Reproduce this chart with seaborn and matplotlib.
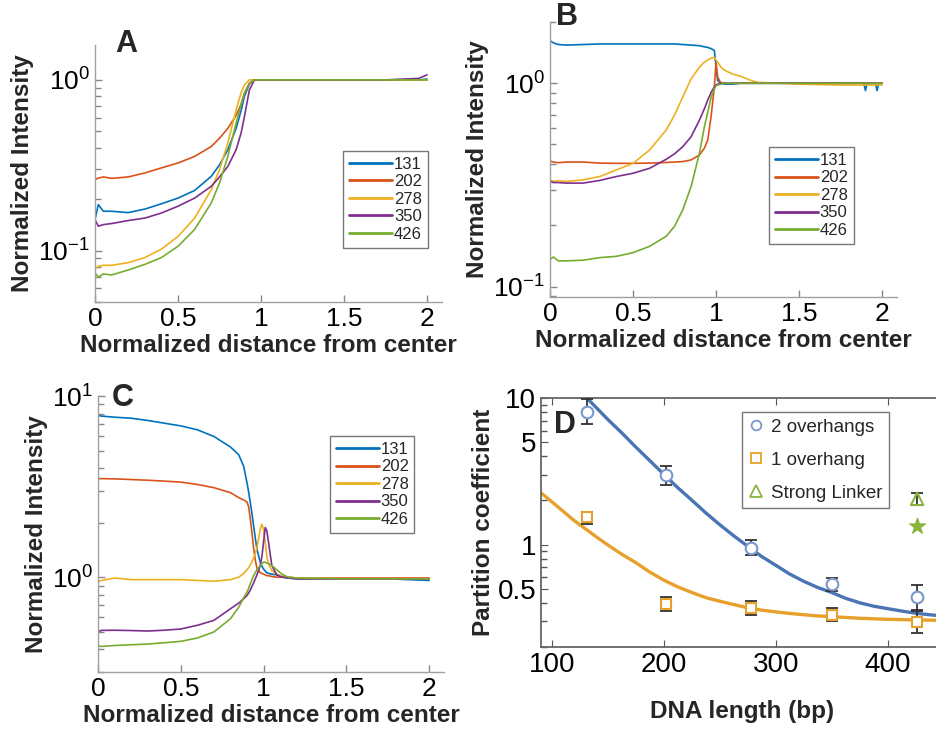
import pandas as pd
import matplotlib
matplotlib.use("Agg")
import matplotlib.pyplot as plt
import seaborn as sns
from matplotlib.lines import Line2D
from matplotlib.ticker import FixedLocator, NullFormatter, LogLocator

sns.set_style("ticks")
plt.rcParams["font.family"] = ["Liberation Sans", "DejaVu Sans"]
plt.rcParams["mathtext.fontset"] = "custom"
plt.rcParams["mathtext.rm"] = "Liberation Sans"
plt.rcParams["mathtext.it"] = "Liberation Sans:italic"
plt.rcParams["mathtext.bf"] = "Liberation Sans:bold"
plt.rcParams["xtick.direction"] = "in"
plt.rcParams["ytick.direction"] = "in"

# DNA lengths (legend) and MATLAB colours
lengths = ["131", "202", "278", "350", "426"]
line_colors = ["#0072BD", "#D95319", "#EDB120", "#7E2F8E", "#77AC30"]

# Panel A
a_x = [0, 0.02, 0.05, 0.1, 0.2, 0.3, 0.4, 0.5, 0.6, 0.7, 0.75, 0.8, 0.85, 0.88,
       0.9, 0.93, 0.96, 1.0, 1.25, 1.5, 1.75, 1.95, 2.0]
a_131 = [0.152, 0.186, 0.17, 0.17, 0.167, 0.175, 0.188, 0.203, 0.225, 0.272,
         0.318, 0.39, 0.52, 0.66, 0.8, 0.95, 1.0, 1.0, 1.0, 1.0, 1.0, 1.0, 1.01]
a_202 = [0.26, 0.266, 0.27, 0.265, 0.27, 0.285, 0.305, 0.326, 0.356, 0.407,
         0.455, 0.52, 0.62, 0.72, 0.836, 0.955, 1.0, 1.0, 1.0, 1.0, 1.0, 1.0, 1.0]
a_278 = [0.078, 0.081, 0.082, 0.082, 0.085, 0.091, 0.102, 0.121, 0.155, 0.227,
         0.298, 0.426, 0.668, 0.84, 0.935, 1.0, 1.0, 1.0, 1.0, 1.0, 1.0, 1.0, 1.0]
a_350 = [0.152, 0.139, 0.142, 0.144, 0.15, 0.155, 0.166, 0.182, 0.203, 0.238,
         0.27, 0.311, 0.39, 0.488, 0.61, 0.874, 1.0, 1.0, 1.0, 1.0, 1.0, 1.02, 1.07]
a_426 = [0.074, 0.07, 0.073, 0.072, 0.077, 0.083, 0.091, 0.106, 0.133, 0.19,
         0.249, 0.356, 0.558, 0.72, 0.836, 0.955, 1.0, 1.0, 1.0, 1.0, 1.0, 1.0, 1.0]

# Panel B
b_x = [0, 0.02, 0.05, 0.1, 0.2, 0.3, 0.4, 0.5, 0.6, 0.7, 0.75, 0.8, 0.85, 0.9,
       0.93, 0.95, 0.97, 0.99, 1.0, 1.01, 1.03, 1.05, 1.1, 1.15, 1.2, 1.25, 1.5,
       1.75, 1.89, 1.9, 1.91, 1.96, 1.97, 1.98, 2.0]
b_131 = [1.62, 1.58, 1.55, 1.54, 1.55, 1.56, 1.56, 1.56, 1.56, 1.56,
         1.56, 1.55, 1.54, 1.53, 1.51, 1.5, 1.48, 1.45, 1.2, 1.03,
         1.0, 0.99, 0.99, 1.0, 1.0, 1.0, 1.0, 1.0, 1.0, 0.92,
         1.0, 1.0, 0.92, 1.0, 1.0]
b_202 = [0.415, 0.41, 0.407, 0.41, 0.41, 0.405, 0.404, 0.404, 0.405, 0.408,
         0.41, 0.412, 0.42, 0.444, 0.48, 0.526, 0.684, 0.96, 1.27, 1.07,
         1.0, 1.0, 1.0, 1.0, 1.0, 1.0, 1.0, 1.0, 1.0, 1.0,
         1.0, 1.0, 1.0, 1.0, 1.0]
b_278 = [0.335, 0.33, 0.332, 0.329, 0.335, 0.348, 0.375, 0.404, 0.47, 0.589,
         0.697, 0.858, 1.05, 1.2, 1.27, 1.3, 1.33, 1.34, 1.3, 1.27,
         1.2, 1.16, 1.11, 1.08, 1.04, 1.01, 0.99, 0.98, 0.98, 0.98,
         0.98, 0.98, 0.98, 0.98, 0.98]
b_350 = [0.329, 0.325, 0.325, 0.323, 0.323, 0.333, 0.348, 0.361, 0.382, 0.423,
         0.45, 0.488, 0.546, 0.659, 0.75, 0.826, 0.9, 0.96, 0.98, 0.99,
         1.0, 1.0, 1.0, 1.0, 1.0, 1.0, 1.0, 1.0, 1.0, 1.0,
         1.0, 1.0, 1.0, 1.0, 1.0]
b_426 = [0.136, 0.14, 0.134, 0.134, 0.135, 0.139, 0.141, 0.147, 0.158, 0.177,
         0.198, 0.239, 0.311, 0.453, 0.611, 0.72, 0.85, 0.94, 0.97, 0.98,
         0.99, 1.0, 1.0, 1.0, 1.0, 1.0, 1.0, 1.0, 1.0, 1.0,
         1.0, 1.0, 1.0, 1.0, 1.0]

# Panel C
c_x = [0, 0.02, 0.1, 0.2, 0.3, 0.4, 0.5, 0.6, 0.7, 0.8, 0.85, 0.88, 0.9, 0.91,
       0.92, 0.93, 0.94, 0.95, 0.96, 0.98, 0.99, 1.0, 1.01, 1.02, 1.03, 1.05,
       1.08, 1.1, 1.12, 1.15, 1.2, 1.5, 1.75, 2.0]
c_131 = [7.8, 7.75, 7.64, 7.54, 7.33, 7.08, 6.84, 6.51, 5.98, 5.23,
         4.74, 4.09, 3.32, 2.95, 2.58, 2.25, 1.92, 1.65, 1.43,
         1.21, 1.15, 1.11, 1.08, 1.06, 1.05, 1.04, 1.03, 1.02, 1.0, 0.99, 0.98,
         0.98, 0.98, 0.96]
c_202 = [3.5, 3.5, 3.49, 3.46, 3.43, 3.39, 3.35, 3.25, 3.12, 2.93,
         2.75, 2.67, 2.6, 2.45, 2.1, 1.75, 1.45, 1.25, 1.12,
         1.06, 1.05, 1.04, 1.03, 1.02, 1.02, 1.01, 1.0, 1.0, 1.0, 1.0, 0.99,
         0.99, 0.99, 0.99]
c_278 = [0.946, 0.96, 0.99, 0.97, 0.97, 0.97, 0.97, 0.96, 0.95, 0.97,
         1.0, 1.05, 1.1, 1.13, 1.17, 1.22, 1.28, 1.35, 1.45,
         1.84, 1.96, 1.84, 1.55, 1.3, 1.18, 1.09, 1.04, 1.02, 1.01, 1.0, 0.99,
         0.98, 0.98, 0.98]
c_350 = [0.499, 0.509, 0.51, 0.508, 0.505, 0.51, 0.518, 0.543, 0.578, 0.67,
         0.72, 0.76, 0.793, 0.82, 0.85, 0.89, 0.93, 0.98, 1.03,
         1.16, 1.3, 1.56, 1.88, 1.8, 1.56, 1.16, 1.03, 1.01, 1.0, 0.99, 0.98,
         0.98, 0.98, 0.98]
c_426 = [0.419, 0.415, 0.42, 0.424, 0.428, 0.435, 0.443, 0.462, 0.499, 0.59,
         0.684, 0.77, 0.828, 0.87, 0.92, 0.97, 1.02, 1.06, 1.1,
         1.16, 1.19, 1.21, 1.21, 1.2, 1.19, 1.16, 1.1, 1.06, 1.03, 1.0, 0.99,
         0.98, 0.98, 0.98]

# Panel D
dna_len = [131, 202, 278, 350, 426]
two_oh = [8.07, 3.0, 0.95, 0.534, 0.438]
two_oh_lo = [6.6, 2.53, 0.85, 0.48, 0.35]
two_oh_hi = [9.8, 3.46, 1.07, 0.59, 0.53]
one_oh = [1.54, 0.395, 0.369, 0.330, 0.298]
one_oh_lo = [1.38, 0.35, 0.33, 0.30, 0.25]
one_oh_hi = [1.68, 0.44, 0.41, 0.37, 0.36]
strong_len = [426]
strong = [2.05]
strong_lo = [1.85]
strong_hi = [2.25]
star = [1.33]
fit2_x = [131, 140, 150, 162, 175, 187, 200, 212, 225, 237, 250, 262, 275, 287,
          300, 312, 325, 337, 350, 362, 375, 387, 400, 412, 425, 437, 450]
fit2_y = [10.0, 8.5, 7.1, 5.8, 4.6, 3.75, 3.0, 2.45, 2.0, 1.65, 1.36, 1.15, 0.97, 0.83,
          0.72, 0.63, 0.56, 0.51, 0.47, 0.43, 0.40, 0.38, 0.365, 0.352, 0.34, 0.332, 0.325]
fit1_x = [90, 100, 110, 120, 131, 140, 150, 162, 175, 187, 200, 212, 225, 237, 250,
          262, 275, 287, 300, 312, 325, 337, 350, 375, 400, 425, 450]
fit1_y = [2.25, 1.95, 1.68, 1.45, 1.26, 1.12, 0.99, 0.86, 0.75, 0.65, 0.57, 0.515,
          0.47, 0.435, 0.41, 0.39, 0.37, 0.357, 0.347, 0.339, 0.332, 0.326, 0.322,
          0.314, 0.309, 0.306, 0.304]

W, H = 937, 730
fig = plt.figure(figsize=(W / 100, H / 100), dpi=100)


def px_axes(left, top, right, bottom):
    return fig.add_axes([left / W, 1 - bottom / H, (right - left) / W, (bottom - top) / H])


def profile_panel(ax, x, series, ylim, leg_anchor):
    frames = [pd.DataFrame({"x": x, "y": y, "len": n}) for n, y in zip(lengths, series)]
    df = pd.concat(frames, ignore_index=True)
    sns.lineplot(data=df, x="x", y="y", hue="len", palette=line_colors,
                 linewidth=1.2, estimator=None, sort=False, legend=False, ax=ax)
    ax.set_yscale("log")
    ax.set_ylim(*ylim)
    ax.yaxis.set_minor_locator(LogLocator(base=10, subs=range(2, 10), numticks=20))
    ax.yaxis.set_minor_formatter(NullFormatter())
    ax.set_xlim(0, 2.09)
    ax.set_xticks([0, 0.5, 1, 1.5, 2])
    ax.set_xticklabels(["0", "0.5", "1", "1.5", "2"])
    for s in ["top", "right"]:
        ax.spines[s].set_visible(False)
    for s in ["left", "bottom"]:
        ax.spines[s].set_color("#a0a0a0")
        ax.spines[s].set_linewidth(1.0)
    ax.tick_params(which="both", colors="#888888", labelcolor="black", labelsize=19)
    ax.tick_params(which="major", length=5, width=1.0)
    ax.tick_params(which="minor", left=True, length=4, width=1.0)
    ax.set_xlabel("Normalized distance from center", fontsize=17.5, fontweight="bold", labelpad=2)
    ax.set_ylabel("Normalized Intensity", fontsize=17.5, fontweight="bold", labelpad=3)
    handles = [Line2D([], [], color=c, lw=2) for c in line_colors]
    leg = ax.legend(handles, lengths, loc="upper left", bbox_to_anchor=leg_anchor,
                    fontsize=12, handlelength=2.6, handletextpad=0.1,
                    labelspacing=0.15, borderpad=0.35, borderaxespad=0,
                    fancybox=False, framealpha=1)
    leg.get_frame().set_edgecolor("#777777")
    leg.get_frame().set_linewidth(1.0)


# A
axA = px_axes(95, 45, 442, 302)
profile_panel(axA, a_x, [a_131, a_202, a_278, a_350, a_426], (0.05, 1.6), (0.715, 0.588))

# B
axB = px_axes(550, 22, 897, 297)
profile_panel(axB, b_x, [b_131, b_202, b_278, b_350, b_426], (0.089, 2.0), (0.631, 0.545))

# C
axC = px_axes(98, 396, 444, 672)
profile_panel(axC, c_x, [c_131, c_202, c_278, c_350, c_426], (0.3, 10.0), (0.67, 0.855))

# D
axD = px_axes(541, 398, 944, 647)
blue_line = "#4a74b4"
blue_pt = "#7a97cc"
orange = "#e8a02c"
green = "#8ab43c"
err_col = "#333333"

fit_df = pd.concat([
    pd.DataFrame({"x": fit2_x, "y": fit2_y, "fit": "2"}),
    pd.DataFrame({"x": fit1_x, "y": fit1_y, "fit": "1"}),
], ignore_index=True)
sns.lineplot(data=fit_df, x="x", y="y", hue="fit", palette=[blue_line, orange],
             linewidth=2.4, estimator=None, legend=False, ax=axD)

for yv, lo, hi in [(two_oh, two_oh_lo, two_oh_hi), (one_oh, one_oh_lo, one_oh_hi)]:
    axD.errorbar(dna_len, yv,
                 yerr=[[v - l for v, l in zip(yv, lo)], [h - v for v, h in zip(yv, hi)]],
                 fmt="none", ecolor=err_col, elinewidth=1.3, capsize=4, capthick=1.3, zorder=3)
axD.errorbar(strong_len, strong,
             yerr=[[strong[0] - strong_lo[0]], [strong_hi[0] - strong[0]]],
             fmt="none", ecolor=err_col, elinewidth=1.3, capsize=4, capthick=1.3, zorder=3)

pts = pd.DataFrame({"x": dna_len, "two": two_oh, "one": one_oh})
sns.scatterplot(data=pts, x="x", y="two", marker="o", s=70, facecolor="white",
                edgecolor=blue_pt, linewidth=1.5, ax=axD, zorder=4)
sns.scatterplot(data=pts, x="x", y="one", marker="s", s=60, facecolor="white",
                edgecolor=orange, linewidth=1.5, ax=axD, zorder=4)
sns.scatterplot(x=strong_len, y=strong, marker="^", s=80, facecolor="none",
                edgecolor=green, linewidth=1.5, ax=axD, zorder=4)
sns.scatterplot(x=strong_len, y=star, marker="*", s=140, color=green,
                edgecolor=green, ax=axD, zorder=4)

axD.set_yscale("log")
axD.set_ylim(0.2, 10)
axD.set_xlim(90, 450)
axD.yaxis.set_major_locator(FixedLocator([0.5, 1, 5, 10]))
axD.set_yticklabels(["0.5", "1", "5", "10"])
axD.yaxis.set_minor_locator(LogLocator(base=10, subs=range(2, 10), numticks=20))
axD.yaxis.set_minor_formatter(NullFormatter())
axD.set_xticks([100, 200, 300, 400])
axD.set_xticklabels(["100", "200", "300", "400"])
for s in axD.spines.values():
    s.set_color("#666666")
    s.set_linewidth(1.3)
axD.tick_params(which="both", top=True, right=True, colors="#555555",
                labelcolor="black", labelsize=20)
axD.tick_params(which="major", length=5)
axD.tick_params(which="minor", left=True, right=True, length=4, width=1.0)
axD.set_xlabel("DNA length (bp)", fontsize=17.5, fontweight="bold", labelpad=16)
axD.set_ylabel("Partition coefficient", fontsize=17.5, fontweight="bold", labelpad=2)

d_handles = [
    Line2D([], [], ls="none", marker="o", mfc="white", mec=blue_pt, mew=1.3, ms=7),
    Line2D([], [], ls="none", marker="s", mfc="white", mec=orange, mew=1.3, ms=6.5),
    Line2D([], [], ls="none", marker="^", mfc="white", mec=green, mew=1.3, ms=8),
]
legD = axD.legend(d_handles, ["2 overhangs", "1 overhang", "Strong Linker"],
                  loc="upper left", bbox_to_anchor=((742 - 541) / 403, 1 - (412 - 398) / 249),
                  fontsize=13.5, handlelength=0.8, handletextpad=0.4,
                  labelspacing=0.85, borderpad=0.35, borderaxespad=0,
                  fancybox=False, framealpha=1)
legD.get_frame().set_edgecolor("#777777")
legD.get_frame().set_linewidth(1.0)

# panel letters
for letter, x, y in [("A", 126, 44), ("B", 567, 17), ("C", 123, 398), ("D", 565, 425)]:
    fig.text(x / W, 1 - y / H, letter, fontsize=22, fontweight="bold",
             ha="center", va="center")

fig.savefig("out.png", dpi=100)
